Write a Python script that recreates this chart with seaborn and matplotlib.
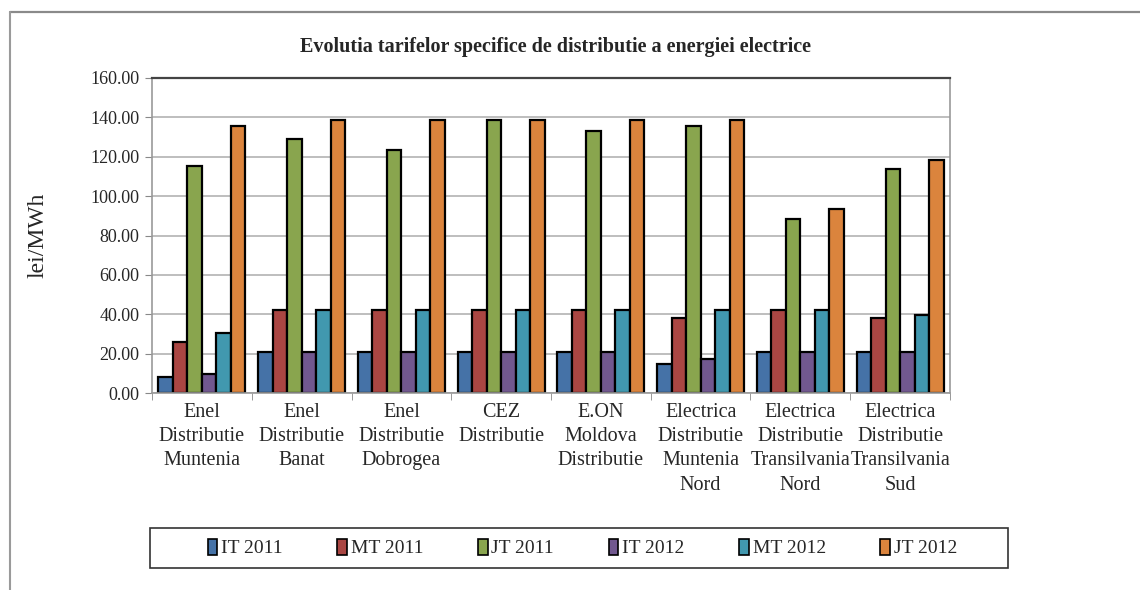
import matplotlib
matplotlib.use("Agg")
import matplotlib.pyplot as plt
from matplotlib.patches import Patch, Rectangle
from matplotlib.lines import Line2D
import numpy as np
import pandas as pd
import seaborn as sns

# values (lei/MWh)
companies = [
    "Enel\nDistributie\nMuntenia",
    "Enel\nDistributie\nBanat",
    "Enel\nDistributie\nDobrogea",
    "CEZ\nDistributie",
    "E.ON\nMoldova\nDistributie",
    "Electrica\nDistributie\nMuntenia\nNord",
    "Electrica\nDistributie\nTransilvania\nNord",
    "Electrica\nDistributie\nTransilvania\nSud",
]
series = ["IT 2011", "MT 2011", "JT 2011", "IT 2012", "MT 2012", "JT 2012"]
it_2011 = [8.2, 20.9, 20.9, 20.9, 20.9, 14.9, 20.9, 20.9]
mt_2011 = [25.9, 42.0, 42.0, 42.0, 42.0, 38.1, 42.0, 38.1]
jt_2011 = [115.2, 129.2, 123.3, 138.8, 133.1, 135.6, 88.4, 114.0]
it_2012 = [9.9, 20.9, 20.9, 20.9, 20.9, 17.1, 20.9, 20.9]
mt_2012 = [30.5, 42.0, 42.0, 42.0, 42.0, 42.0, 42.0, 39.8]
jt_2012 = [135.6, 138.8, 138.8, 138.8, 138.8, 138.8, 93.7, 118.5]
colors = ["#4572A7", "#AA4643", "#89A54E", "#71588F", "#4198AF", "#DB843D"]

values = [it_2011, mt_2011, jt_2011, it_2012, mt_2012, jt_2012]
df = pd.DataFrame(
    [(c, s, v) for s, vals in zip(series, values) for c, v in zip(companies, vals)],
    columns=["company", "series", "value"],
)

sns.set_style("white")
plt.rcParams["font.family"] = ["Liberation Serif", "DejaVu Serif"]

fig = plt.figure(figsize=(11.4, 5.9), dpi=100)
W, H = 1140, 590
ax = fig.add_axes([152 / W, (H - 393) / H, (950 - 152) / W, (393 - 78) / H])

sns.barplot(data=df, x="company", y="value", hue="series", order=companies,
            hue_order=series, palette=colors, width=0.87, gap=0,
            edgecolor="black", linewidth=1.6, saturation=1, ax=ax, legend=False)

ax.set_ylim(0, 160)
ax.set_xlim(-0.5, len(companies) - 0.5)
ax.set_yticks(np.arange(0, 161, 20))
ax.set_yticklabels([f"{t:.2f}" for t in np.arange(0, 161, 20)], fontsize=13)
ax.yaxis.grid(True, color="#b3b3b3", linewidth=1.2)
ax.set_axisbelow(True)
ax.tick_params(axis="y", length=5, color="#888888", pad=4, left=True)
ax.tick_params(axis="x", length=0, pad=7, labelsize=14.5)
ax.set_xticks(np.arange(len(companies)))
ax.set_xticklabels(companies, linespacing=1.38)
ax.set_xticks(np.arange(-0.5, len(companies)), minor=True)
ax.tick_params(axis="x", which="minor", length=5, color="#888888", bottom=True)
for side in ["left", "bottom", "right"]:
    ax.spines[side].set_color("#999999")
    ax.spines[side].set_linewidth(1.2)
ax.spines["top"].set_color("#444444")
ax.spines["top"].set_linewidth(1.6)
ax.set_xlabel("")
ax.set_ylabel("lei/MWh", fontsize=17, labelpad=30)

fig.text((152 + 950) / 2 / W + 0.004, 1 - 47 / H,
         "Evolutia tarifelor specifice de distributie a energiei electrice",
         ha="center", va="center", fontsize=14.5, fontweight="bold")

# outer chart frame (top and left edges visible)
fig.add_artist(Line2D([10 / W, 1], [1 - 12 / H, 1 - 12 / H], color="#8a8a8a", lw=1.6))
fig.add_artist(Line2D([10 / W, 10 / W], [0, 1 - 12 / H], color="#9a9a9a", lw=1.5))

# legend box
fig.add_artist(Rectangle((150 / W, (H - 568) / H), (1008 - 150) / W, 40 / H,
                         transform=fig.transFigure, fill=False,
                         edgecolor="#333333", lw=1.2))
handles = [Patch(facecolor=c, edgecolor="black", linewidth=1.2) for c in colors]
fig.legend(handles, series, loc="center", ncol=6,
           bbox_to_anchor=((150 + 1008) / 2 / W + 0.003, 1 - 548 / H),
           frameon=False, fontsize=14, handlelength=0.5, handleheight=0.9,
           handletextpad=0.2, columnspacing=2.8)

fig.savefig("out.png", dpi=100)
